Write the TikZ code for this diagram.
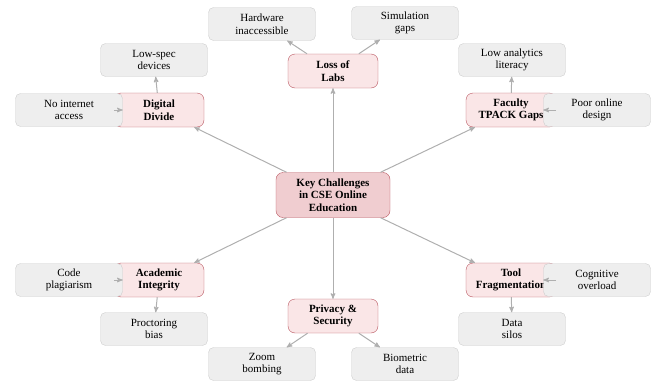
\documentclass[tikz,border=0pt]{standalone}
\usepackage{fontspec}
\setmainfont{Liberation Serif}
\usepackage{xcolor}
\usetikzlibrary{arrows,shapes,positioning}
\definecolor{hubfill}{RGB}{250,230,231}
\definecolor{corefill}{RGB}{240,205,208}
\definecolor{hubline}{RGB}{185,85,95}
\definecolor{leaffill}{RGB}{238,238,238}
\definecolor{leafline}{RGB}{205,205,205}
\definecolor{linkgray}{RGB}{175,175,175}
\tikzset{
>=stealth',
  core/.style={
    rectangle,
    rounded corners=7pt,
    fill=corefill,
    draw=hubline, thin,
    minimum width=114pt,
    minimum height=45pt,
    align=center,
    font=\fontsize{11}{12.7}\selectfont\bfseries},
  hub/.style={
    rectangle,
    rounded corners=7pt,
    fill=hubfill,
    draw=hubline, thin,
    minimum width=90pt,
    minimum height=34pt,
    align=center,
    font=\fontsize{11}{12.7}\selectfont\bfseries},
  leaf/.style={
    rectangle,
    rounded corners=5pt,
    fill=leaffill,
    draw=leafline, thin,
    minimum width=107pt,
    minimum height=33pt,
    align=center,
    font=\fontsize{11}{12.7}\selectfont},
  link/.style={draw=linkgray, line width=1pt, ->},
}

\begin{document}
\begin{tikzpicture}[x=1pt,y=-1pt]
      \useasboundingbox (0,0) rectangle (654,383);

      % centre and the six challenges
      \node[core] (Core) at (333,195) {Key Challenges\\in CSE Online\\Education};
      \node[hub] (Divide) at (159,110) {Digital\\Divide};
      \node[hub] (Labs) at (333,71) {Loss of\\Labs};
      \node[hub] (Faculty) at (511,110) {Faculty\\TPACK Gaps};
      \node[hub] (Integrity) at (159,280) {Academic\\Integrity};
      \node[hub] (Privacy) at (333,316) {Privacy \&\\Security};
      \node[hub] (Tools) at (511,280) {Tool\\Fragmentation};

      % details
      \node[leaf] (Internet) at (69,110) {No internet\\access};
      \node[leaf] (Devices) at (154,60) {Low-spec\\devices};
      \node[leaf] (Hardware) at (262,24) {Hardware\\inaccessible};
      \node[leaf] (Simulation) at (405,23) {Simulation\\gaps};
      \node[leaf] (Analytics) at (512,60) {Low analytics\\literacy};
      \node[leaf] (Design) at (597,110) {Poor online\\design};
      \node[leaf] (Plagiarism) at (69,280) {Code\\plagiarism};
      \node[leaf] (Proctoring) at (154,329) {Proctoring\\bias};
      \node[leaf] (Zoom) at (262,364) {Zoom\\bombing};
      \node[leaf] (Biometric) at (405,364) {Biometric\\data};
      \node[leaf] (Silos) at (512,329) {Data\\silos};
      \node[leaf] (Overload) at (597,280) {Cognitive\\overload};

      \foreach \h in {Divide,Labs,Faculty,Integrity,Privacy,Tools}
        \path[link] (Core) -- (\h);

      \path[link] (Divide) -- (Internet);
      \path[link] (Divide) -- (Devices);
      \path[link] (Labs) -- (Hardware);
      \path[link] (Labs) -- (Simulation);
      \path[link] (Faculty) -- (Analytics);
      \path[link] (Faculty) -- (Design);
      \path[link] (Integrity) -- (Plagiarism);
      \path[link] (Integrity) -- (Proctoring);
      \path[link] (Privacy) -- (Zoom);
      \path[link] (Privacy) -- (Biometric);
      \path[link] (Tools) -- (Silos);
      \path[link] (Tools) -- (Overload);

\end{tikzpicture}
\end{document}
